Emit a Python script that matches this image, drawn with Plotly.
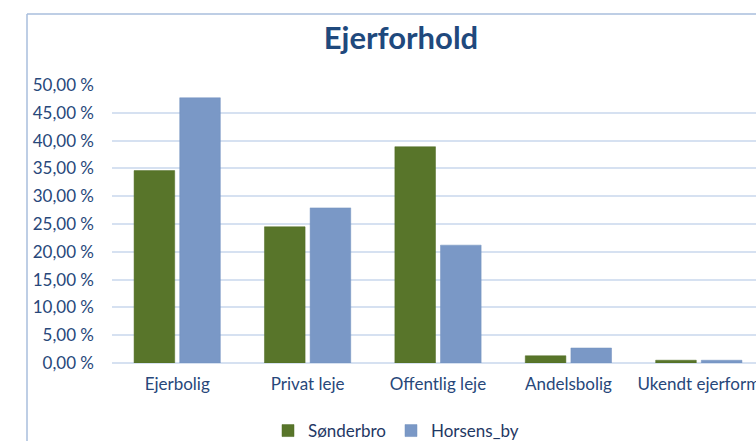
import plotly.graph_objects as go

categories = ["Ejerbolig", "Privat leje", "Offentlig leje", "Andelsbolig", "Ukendt ejerform"]
sonderbro = [34.6, 24.5, 38.9, 1.3, 0.5]
horsens_by = [47.7, 27.9, 21.2, 2.7, 0.5]
tick_vals = [0, 5, 10, 15, 20, 25, 30, 35, 40, 45, 50]
tick_text = ["%d,00 %%" % v for v in tick_vals]

navy = "#27477A"
font_family = "Lato, 'Open Sans', sans-serif"

fig = go.Figure()
fig.add_trace(go.Bar(
    name="Sønderbro", x=categories, y=sonderbro,
    marker=dict(color="#58752A", line=dict(color="#4E6A22", width=0.5)),
))
fig.add_trace(go.Bar(
    name="Horsens_by", x=categories, y=horsens_by,
    marker=dict(color="#7A98C6", line=dict(color="#7391BF", width=0.5)),
))

W, H = 756, 441
L, R, T, B = 112, 0, 85, 78
pw = W - L - R
ph = H - T - B

def px_x(p):
    return (p - L) / pw

def px_y(p):
    return (H - B - p) / ph

fig.update_layout(
    width=W, height=H,
    margin=dict(l=L, r=R, t=T, b=B, pad=0, autoexpand=False),
    paper_bgcolor="white", plot_bgcolor="white",
    barmode="group", bargap=0.30, bargroupgap=0.11,
    font=dict(family=font_family, color=navy, size=14),
    title=dict(text="<b>Ejerforhold</b>", x=401 / W, xanchor="center",
               y=1 - 38 / H, yanchor="middle",
               font=dict(size=31, color="#1F497D", family=font_family)),
    showlegend=True,
    legend=dict(orientation="h", xref="container", yref="container",
                x=396 / W, xanchor="center",
                y=1 - 431 / H, yanchor="middle",
                font=dict(size=17, color="#1F3864"),
                itemwidth=30, tracegroupgap=0, bgcolor="rgba(0,0,0,0)"),
    xaxis=dict(range=[-0.5, -0.5 + pw / 130.4], showgrid=False,
               showline=False, zeroline=False, ticks="",
               tickfont=dict(size=17, color=navy), ticklabelstandoff=9,
               fixedrange=True, automargin=False),
    yaxis=dict(range=[0, 50], tickvals=tick_vals, ticktext=tick_text,
               showgrid=True, gridcolor="#D6E1F1", gridwidth=1.5,
               zeroline=True, zerolinecolor="#D6E1F1", zerolinewidth=1.5,
               showline=False, ticks="", tickfont=dict(size=17, color=navy),
               ticklabelstandoff=17, fixedrange=True, automargin=False),
    shapes=[
        dict(type="line", xref="paper", yref="paper",
             x0=px_x(27), x1=px_x(27), y0=px_y(14), y1=px_y(460),
             line=dict(color="#A9BEDD", width=1.5)),
        dict(type="line", xref="paper", yref="paper",
             x0=px_x(27), x1=px_x(800), y0=px_y(14), y1=px_y(14),
             line=dict(color="#A9BEDD", width=1.5)),
    ],
)

fig.write_html("out.html", config={"displayModeBar": False},
               post_script="document.body.style.margin='0';document.body.style.overflow='hidden';")
